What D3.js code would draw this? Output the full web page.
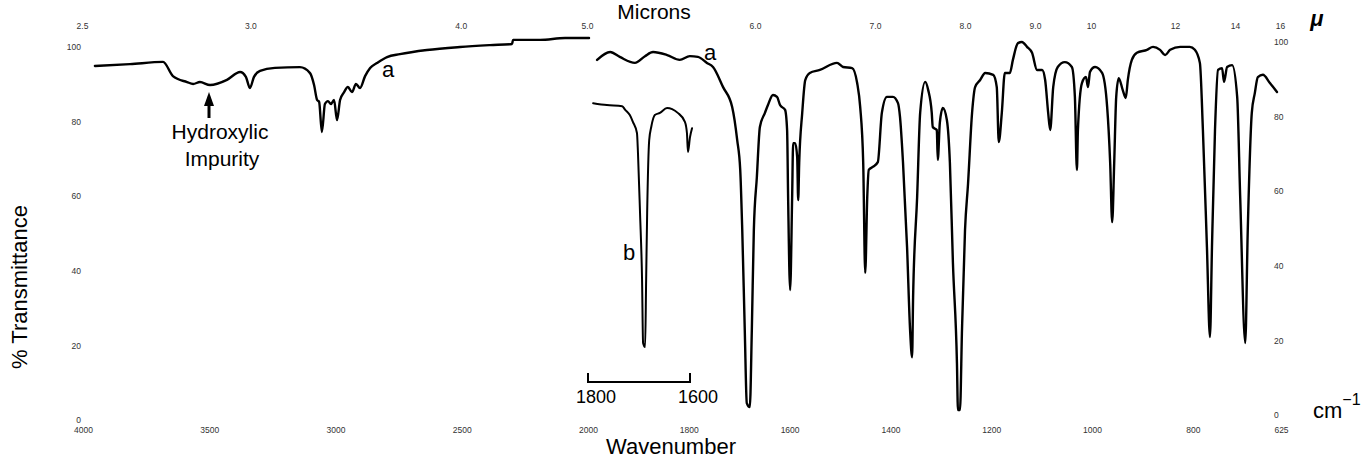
<!DOCTYPE html>
<html><head><meta charset="utf-8">
<script src="https://cdn.jsdelivr.net/npm/d3@7"></script>
<style>
body{margin:0;background:#fff}
svg{display:block}
text{font-family:"Liberation Sans",Arial,sans-serif}
</style>
</head><body>
<svg id="chart" width="1368" height="460"></svg>
<script>
// ---- data (wavenumber cm-1, % transmittance) ----
const aLeftWn = [3941,3802,3671,3632,3576,3552,3525,3485,3418,3366,3343,3327,3311,3287,3228,3129,3089,3073,3061,3053,3042,3030,3018,3006,2994,2982,2970,2954,2939,2923,2907,2891,2871,2851,2824,2784,2733,2626,2495,2376,2289,2285,2178,2079,1992];
const aLeftT  = [94.9,95.4,96.0,92.2,90.6,90.1,90.6,89.8,91.2,93.3,92.0,89.0,92.0,93.6,94.4,94.6,93.0,89.8,85.8,85.3,77.2,84.7,85.5,84.7,85.8,80.4,85.8,87.9,89.3,87.9,90.1,89.0,92.2,94.4,95.7,97.3,98.1,99.2,100.0,100.5,100.8,101.9,101.9,102.4,102.4];

const aRightWn = [1976,1950,1931,1901,1881,1865,1837,1812,1792,1776,1758,1746,1726,1708,1698,1692,1688,1683,1679,1673,1669,1665,1659,1653,1643,1637,1627,1619,1613,1603,1599,1597,1593,1589,1587,1583,1579,1577,1575,1569,1563,1554,1534,1500,1488,1470,1460,1454,1448,1444,1440,1437,1429,1419,1411,1401,1389,1379,1375,1369,1361,1355,1351,1349,1341,1335,1325,1319,1312,1310,1302,1300,1296,1290,1282,1276,1270,1262,1260,1256,1252,1246,1240,1232,1226,1216,1206,1190,1183,1179,1173,1167,1157,1151,1141,1133,1123,1113,1103,1093,1087,1081,1077,1071,1062,1048,1034,1028,1024,1022,1014,1006,1002,998,988,974,964,958,954,950,946,941,933,927,923,915,905,885,873,859,849,839,819,800,790,780,774,766,760,756,750,744,736,732,726,716,706,700,690,685,677,671,665,655,641,627];
const aRightT  = [95.2,97.3,96.0,94.4,96.2,97.3,96.5,95.2,96.2,96.0,94.4,93.3,87.9,82.6,73.7,65.7,49.6,22.8,3.2,2.1,22.8,49.6,63.8,77.2,81.0,83.1,85.8,85.3,83.1,81.8,76.4,58.4,33.5,58.4,72.9,72.9,69.2,57.6,67.6,81.0,89.8,91.7,92.5,94.4,93.3,93.0,89.0,82.6,67.6,38.1,58.4,65.7,66.5,67.8,81.0,85.3,85.3,83.6,79.9,67.6,45.0,22.8,15.5,31.6,58.4,81.0,89.3,87.1,81.0,77.2,76.4,68.4,78.3,82.3,79.1,67.6,40.8,13.9,1.3,1.3,22.8,49.6,62.0,81.0,87.9,89.8,91.7,91.2,87.9,73.2,81.0,91.7,91.7,95.2,99.7,100.0,98.7,97.1,92.5,92.5,89.8,81.0,76.4,87.9,93.3,94.6,93.3,85.3,65.7,76.4,89.0,90.6,87.9,92.0,93.3,91.7,82.6,67.6,51.7,67.6,85.3,90.3,87.1,85.0,89.8,95.2,97.1,97.9,98.7,97.9,96.5,97.9,98.7,98.7,97.9,94.4,76.4,45.0,20.9,45.0,76.4,92.5,93.0,89.3,93.3,93.8,85.3,58.4,19.3,49.6,81.0,86.3,90.6,91.2,89.0,86.6];

// curve b, recorded on its own expanded wavenumber scale (1800 - 1600)
const bWn = [1790,1763,1733,1727,1718,1712,1704,1702,1698,1694,1692,1688,1686,1684,1680,1676,1669,1659,1645,1635,1624,1610,1606,1604,1600,1596];
const bT  = [83.6,83.1,82.8,81.8,80.4,78.6,75.6,70.2,54.2,36.2,19.3,18.2,36.2,54.2,73.7,77.2,80.4,81.0,82.3,82.0,81.0,78.6,75.6,70.5,74.5,76.9];

const wnTicks = [4000,3500,3000,2500,2000,1800,1600,1400,1200,1000,800,625];
const micronTicks = [2.5,3,4,5,6,7,8,9,10,12,14,16];
const micronLabels = ["2.5","3.0","4.0","5.0","6.0","7.0","8.0","9.0","10","12","14","16"];
const tTicks = [0,20,40,60,80,100];
const bScaleTicks = [1800,1600];

// ---- scales ----
const svg = d3.select("#chart");
const x  = d3.scaleLinear().domain([4000,2000,625]).range([80,585,1278]);
const xB = d3.scaleLinear().domain([1800,1600]).range([588,690]);
const yL = d3.scaleLinear().domain([0,100]).range([420,47]);
const yR = d3.scaleLinear().domain([0,100]).range([415,42]);

// ---- axes (labels only, as in the printed chart) ----
function styleAxis(g){
  g.select(".domain").remove();
  g.selectAll(".tick line").remove();
  g.selectAll("text").attr("font-size","8.5px").attr("fill","#333")
   .attr("font-family","'Liberation Sans',Arial,sans-serif");
}
svg.append("g").attr("transform","translate(3,427)")
  .call(d3.axisBottom(x).tickValues(wnTicks).tickSize(0).tickPadding(0).tickFormat(d3.format("d")))
  .call(styleAxis);
svg.append("g").attr("transform","translate(2,29)")
  .call(d3.axisTop(x).tickValues(micronTicks.map(m=>10000/m)).tickSize(0).tickPadding(0)
        .tickFormat((d,i)=>micronLabels[i]))
  .call(styleAxis);
svg.append("g").attr("transform","translate(81,0)")
  .call(d3.axisLeft(yL).tickValues(tTicks).tickSize(0).tickPadding(0))
  .call(styleAxis);
svg.append("g").attr("transform","translate(1274,0)")
  .call(d3.axisRight(yR).tickValues(tTicks).tickSize(0).tickPadding(0))
  .call(styleAxis);

// ---- curves ----
const cv = d3.curveMonotoneX;
const lineL = d3.line().curve(cv).x(d=>x(d[0])).y(d=>yL(d[1]));
const lineR = d3.line().curve(cv).x(d=>x(d[0])).y(d=>yR(d[1]));
const lineB = d3.line().curve(cv).x(d=>xB(d[0])).y(d=>yR(d[1]));
const curveStyle = p => p.attr("fill","none").attr("stroke","#000")
  .attr("stroke-width",2.4).attr("stroke-linejoin","round").attr("stroke-linecap","round");

svg.append("path").datum(d3.zip(aLeftWn,aLeftT)).attr("d",lineL).call(curveStyle);
svg.append("path").datum(d3.zip(aRightWn,aRightT)).attr("d",lineR).call(curveStyle);
svg.append("path").datum(d3.zip(bWn,bT)).attr("d",lineB).call(curveStyle).attr("stroke-width",2);

// scale bracket for curve b
const bx0 = xB(bScaleTicks[0]), bx1 = xB(bScaleTicks[1]);
svg.append("path").attr("d",`M${bx0},373V382H${bx1}V373`)
  .attr("fill","none").attr("stroke","#000").attr("stroke-width",2);
svg.selectAll("text.bt").data(bScaleTicks).join("text").attr("class","bt")
  .attr("x",d=>xB(d)+8).attr("y",403).attr("text-anchor","middle")
  .attr("font-size","18px").text(d=>d);

// ---- annotations ----
const T = (t,xx,yy,size,anchor="middle") => svg.append("text").attr("x",xx).attr("y",yy)
  .attr("font-size",size).attr("text-anchor",anchor).attr("fill","#000").text(t);
T("Microns",654,19,"21px");
T("Wavenumber",671,454,"22px");
T("Hydroxylic",220,139,"21px");
T("Impurity",222,166,"21px");
T("a",388,77,"22px");
T("a",710,60,"22px");
T("b",629,260,"22px");
svg.append("text").attr("transform","translate(27,287) rotate(-90)")
  .attr("text-anchor","middle").attr("font-size","22px").text("% Transmittance");
svg.append("text").attr("x",1317).attr("y",26).attr("text-anchor","middle")
  .attr("font-size","22px").attr("font-weight","bold").attr("font-style","italic").text("μ");
const cm = svg.append("text").attr("x",1313).attr("y",418).attr("font-size","22px");
cm.append("tspan").text("cm");
cm.append("tspan").attr("dy",-13).attr("font-size","16px").text("−1");

// arrow for the hydroxylic impurity
svg.append("line").attr("x1",209).attr("x2",209).attr("y1",104).attr("y2",118)
  .attr("stroke","#000").attr("stroke-width",3);
svg.append("path").attr("d","M209,92 L204,106 L214,106 Z").attr("fill","#000");
</script>
</body></html>
